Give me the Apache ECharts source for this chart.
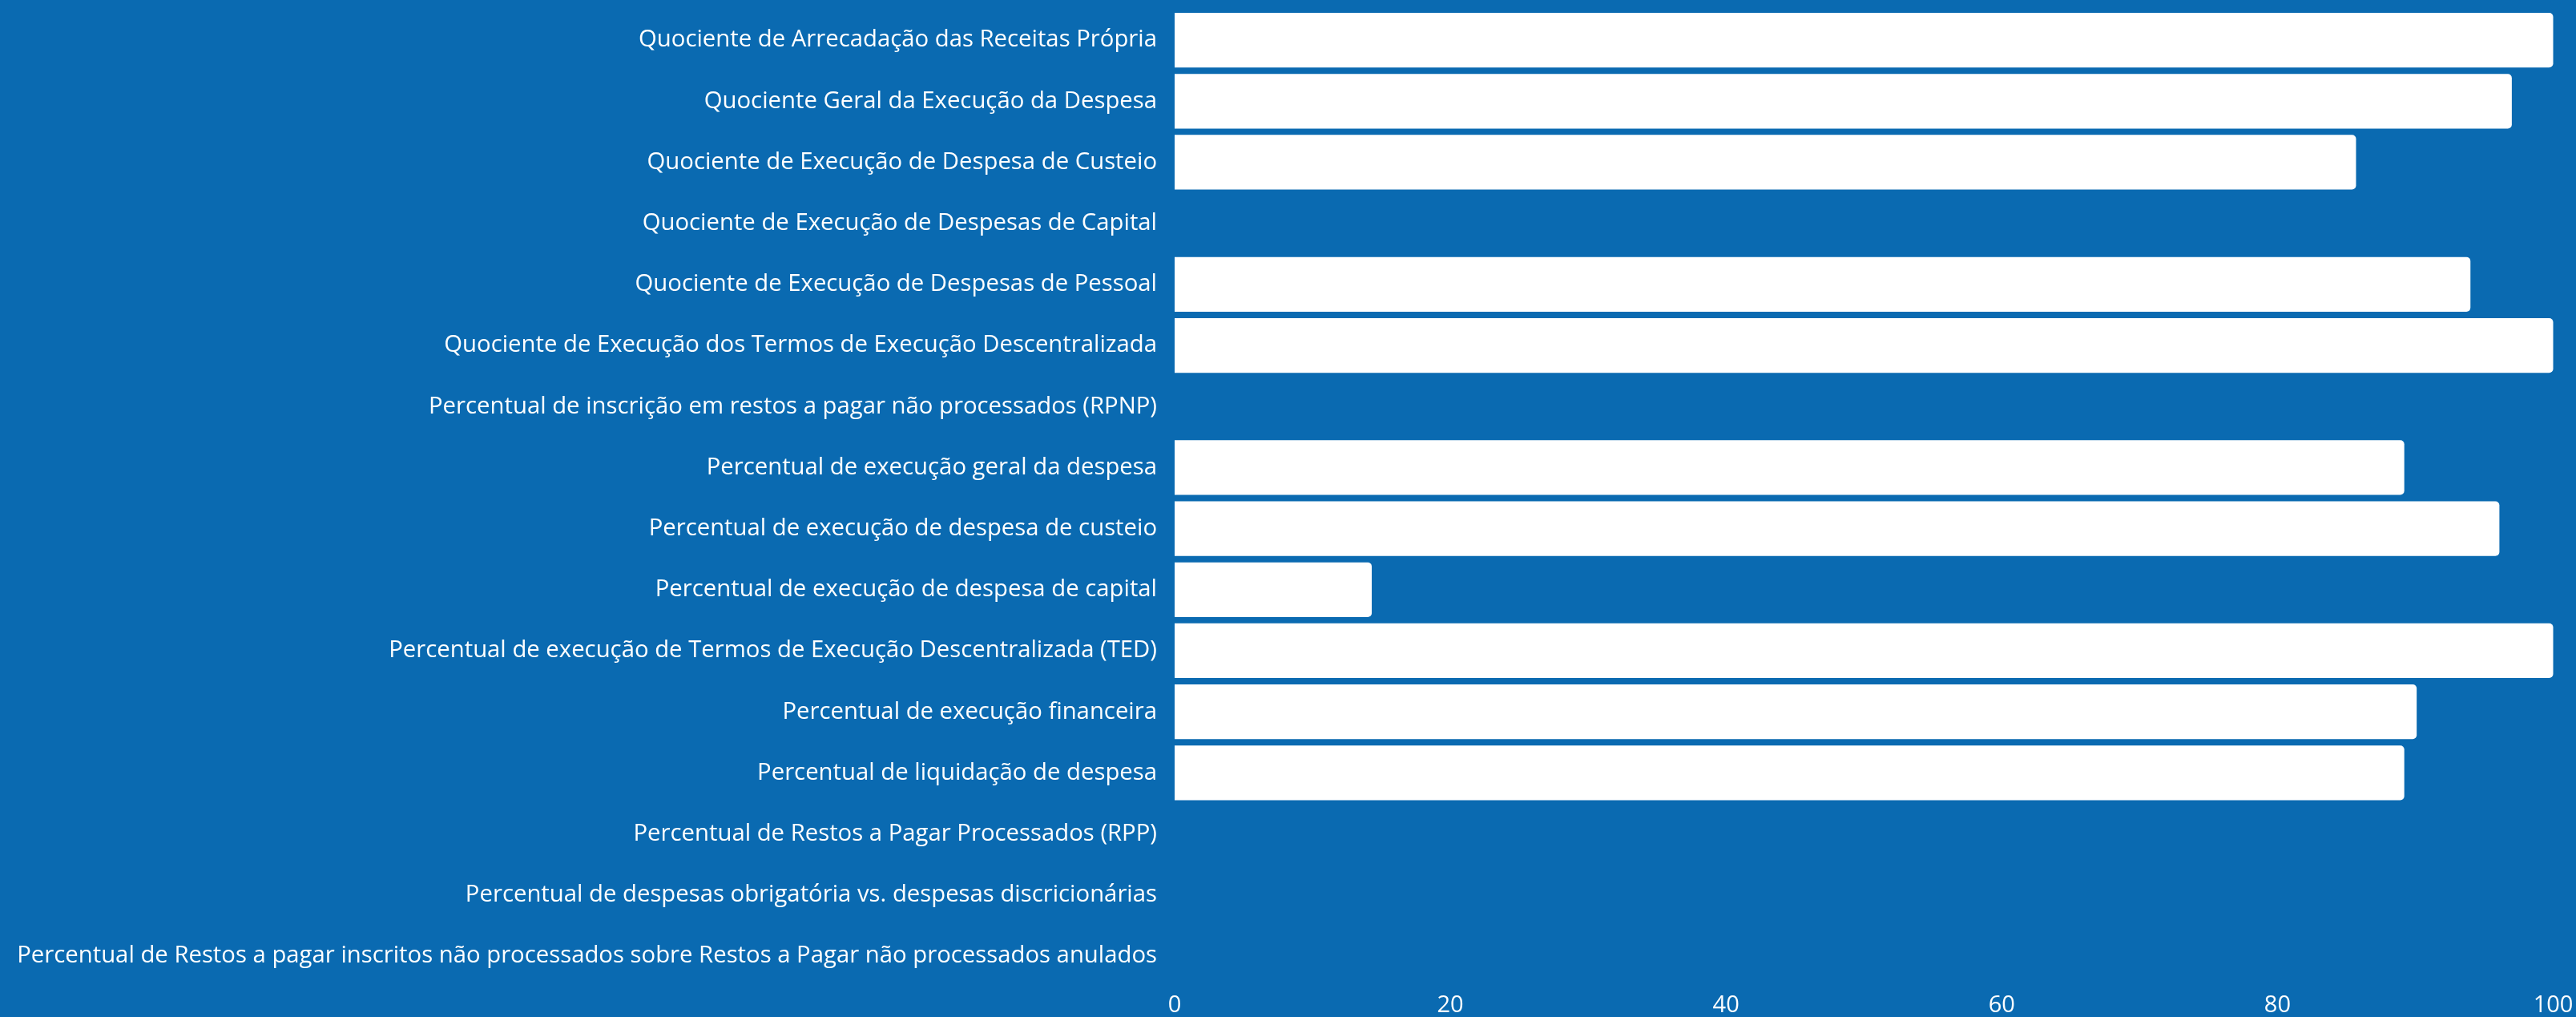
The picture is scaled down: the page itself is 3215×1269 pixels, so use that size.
<!DOCTYPE html>
<html>
<head>
<meta charset="utf-8">
<script src="https://cdn.jsdelivr.net/npm/echarts@6/dist/echarts.min.js"></script>
<style>
  html, body { margin: 0; padding: 0; background: #0a6ab1; }
  #chart { width: 3215px; height: 1269px; }
</style>
</head>
<body>
<div id="chart"></div>
<script>
// Indicator names, top to bottom
const categories = [
  'Quociente de Arrecadação das Receitas Própria',
  'Quociente Geral da Execução da Despesa',
  'Quociente de Execução de Despesa de Custeio',
  'Quociente de Execução de Despesas de Capital',
  'Quociente de Execução de Despesas de Pessoal',
  'Quociente de Execução dos Termos de Execução Descentralizada',
  'Percentual de inscrição em restos a pagar não processados (RPNP)',
  'Percentual de execução geral da despesa',
  'Percentual de execução de despesa de custeio',
  'Percentual de execução de despesa de capital',
  'Percentual de execução de Termos de Execução Descentralizada (TED)',
  'Percentual de execução financeira',
  'Percentual de liquidação de despesa',
  'Percentual de Restos a Pagar Processados (RPP)',
  'Percentual de despesas obrigatória vs. despesas discricionárias',
  'Percentual de Restos a pagar inscritos não processados sobre Restos a Pagar não processados anulados'
];

// Indicator values (%), same order
const values = [100, 97, 85.7, 0, 94, 100, 0, 89.2, 96.1, 14.3, 100, 90.1, 89.2, 0, 0, 0];

// Value axis ticks
const xTicks = [0, 20, 40, 60, 80, 100];

const chart = echarts.init(document.getElementById('chart'), null, { renderer: 'canvas' });

chart.setOption({
  backgroundColor: '#0a6ab1',
  animation: false,
  grid: { left: 1466, right: 28.5, top: 12, bottom: 36, containLabel: false },
  xAxis: {
    type: 'value',
    min: xTicks[0],
    max: xTicks[xTicks.length - 1],
    interval: xTicks[1] - xTicks[0],
    axisLine: { show: false },
    axisTick: { show: false },
    splitLine: { show: false },
    axisLabel: {
      color: '#ffffff',
      fontFamily: 'Open Sans',
      fontSize: 29,
      margin: 9
    }
  },
  yAxis: {
    type: 'category',
    data: categories,
    inverse: true,
    axisLine: { show: false },
    axisTick: { show: false },
    splitLine: { show: false },
    axisLabel: {
      color: '#ffffff',
      fontFamily: 'Open Sans',
      fontSize: 29.3,
      margin: 22
    }
  },
  series: [{
    type: 'bar',
    data: values,
    barCategoryGap: '10.5%',
    itemStyle: { color: '#ffffff', borderRadius: [0, 5, 5, 0] }
  }]
});
</script>
</body>
</html>
